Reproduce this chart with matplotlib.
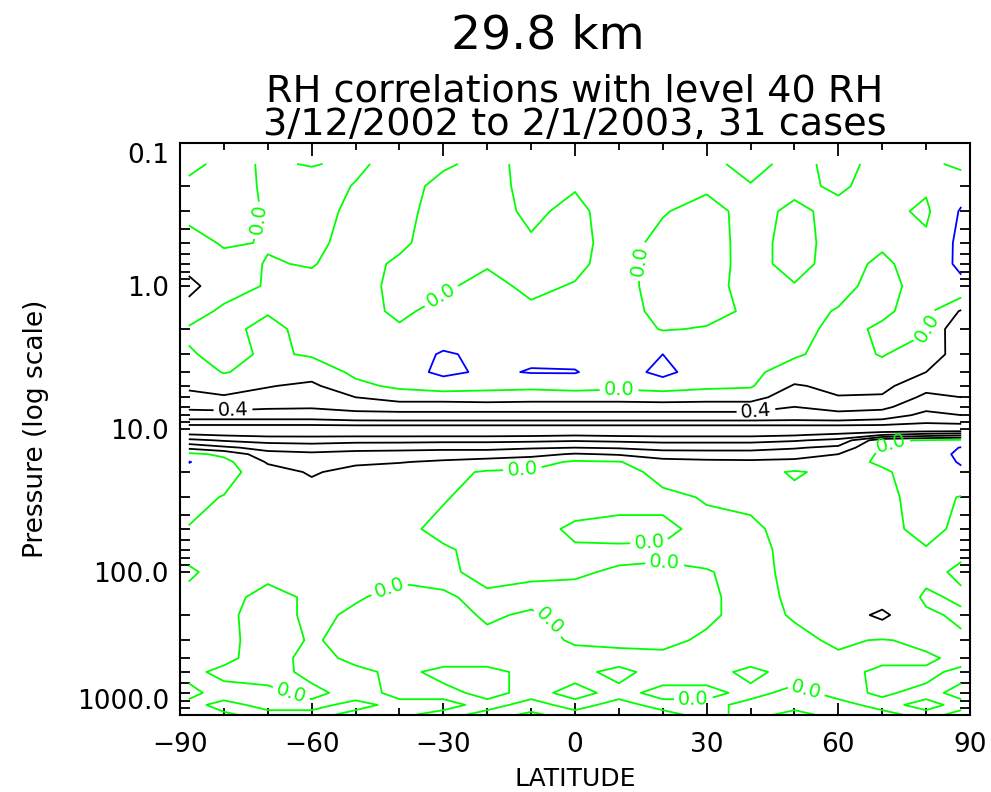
import numpy as np
import matplotlib
matplotlib.use('Agg')
import matplotlib.pyplot as plt
import matplotlib.ticker as ticker

# latitude columns and pressure rows of the correlation field
lats = [-88, -80, -70, -60, -50, -40, -30, -20, -10, 0, 10, 20, 30, 40, 50, 60, 70, 80, 88]
pressures = [0.14, 0.2, 0.3, 0.5, 0.7, 1.0, 1.5, 2.0, 3.0, 4.0,
             5.0, 6.0, 7.0, 8.0, 9.0, 10.0, 11.0, 12.0, 13.5, 15.0, 17.0, 20.0,
             30.0, 50.0, 70.0, 100.0, 150.0, 200.0, 300.0, 400.0, 500.0, 700.0, 850.0, 1000.0]

# correlation with level 40 RH, one row per pressure level (lat -88 ... 88)
corr = np.array([
    [0.05, -0.05, 0.02, -0.01, 0.03, -0.06, -0.02, 0.04, -0.04, -0.04, -0.06, -0.05, -0.04, 0.05, -0.05, 0.05, -0.05, -0.04, 0.04],   # 0.14
    [-0.05, -0.06, 0.02, 0.08, -0.01, -0.07, 0.05, 0.06, -0.05, -0.01, -0.07, -0.05, -0.02, -0.01, -0.03, 0.02, -0.05, -0.02, -0.12],  # 0.2
    [-0.05, -0.05, 0.01, 0.08, -0.05, -0.06, 0.08, 0.06, -0.03, 0.04, -0.08, -0.01, 0.05, -0.05, 0.03, -0.04, -0.05, 0.03, -0.22],    # 0.3
    [0.08, -0.02, 0.01, 0.04, -0.06, -0.03, 0.08, 0.04, 0.02, 0.05, -0.07, 0.05, 0.07, -0.06, 0.06, -0.06, -0.02, -0.04, -0.25],      # 0.5
    [0.15, 0.07, -0.01, 0.01, -0.07, 0.03, 0.06, 0.01, 0.05, 0.03, -0.06, 0.07, 0.06, -0.05, 0.05, -0.06, 0.03, -0.08, -0.24],        # 0.7
    [0.25, 0.10, -0.02, -0.05, -0.07, 0.05, 0.02, -0.04, 0.03, -0.01, -0.06, 0.07, 0.05, -0.05, -0.01, -0.04, 0.05, -0.06, -0.15],    # 1
    [0.12, -0.05, -0.01, -0.06, -0.06, 0.03, -0.05, -0.08, -0.03, -0.05, -0.07, 0.05, 0.04, -0.02, -0.05, 0.01, 0.02, -0.05, 0.22],   # 1.5
    [-0.03, -0.04, 0.04, -0.05, -0.05, -0.02, -0.10, -0.10, -0.08, -0.08, -0.08, 0.01, -0.01, -0.04, -0.05, 0.04, -0.02, -0.01, 0.38], # 2
    [0.02, -0.06, 0.03, -0.02, -0.06, -0.10, -0.22, -0.16, -0.17, -0.15, -0.12, -0.20, -0.07, -0.05, -0.02, 0.06, -0.01, 0.08, 0.30],  # 3
    [0.10, -0.01, 0.06, 0.12, -0.04, -0.12, -0.24, -0.17, -0.21, -0.21, -0.10, -0.26, -0.08, -0.04, 0.08, 0.10, 0.06, 0.20, 0.25],    # 4
    [0.17, 0.12, 0.19, 0.24, 0.05, -0.04, -0.10, -0.06, -0.05, -0.08, -0.05, -0.08, -0.04, -0.02, 0.22, 0.15, 0.15, 0.33, 0.30],      # 5
    [0.25, 0.22, 0.27, 0.30, 0.20, 0.12, 0.12, 0.10, 0.12, 0.12, 0.12, 0.10, 0.12, 0.12, 0.32, 0.21, 0.22, 0.45, 0.40],              # 6
    [0.35, 0.33, 0.37, 0.38, 0.32, 0.30, 0.30, 0.30, 0.30, 0.30, 0.30, 0.30, 0.30, 0.30, 0.40, 0.32, 0.35, 0.55, 0.50],              # 7
    [0.50, 0.50, 0.50, 0.50, 0.48, 0.47, 0.47, 0.47, 0.47, 0.47, 0.47, 0.47, 0.47, 0.47, 0.50, 0.47, 0.50, 0.65, 0.60],              # 8
    [0.68, 0.68, 0.68, 0.68, 0.65, 0.65, 0.65, 0.65, 0.65, 0.65, 0.65, 0.65, 0.65, 0.65, 0.65, 0.65, 0.68, 0.78, 0.75],              # 9
    [1.00, 1.00, 1.00, 1.00, 1.00, 1.00, 1.00, 1.00, 1.00, 1.00, 1.00, 1.00, 1.00, 1.00, 1.00, 1.00, 1.00, 1.00, 1.00],              # 10
    [0.78, 0.82, 0.85, 0.85, 0.85, 0.85, 0.85, 0.85, 0.84, 0.82, 0.84, 0.85, 0.85, 0.85, 0.82, 0.75, 0.60, 0.50, 0.45],              # 11
    [0.55, 0.62, 0.67, 0.68, 0.66, 0.66, 0.65, 0.65, 0.64, 0.62, 0.64, 0.66, 0.66, 0.66, 0.62, 0.55, 0.05, -0.02, -0.05],            # 12
    [0.25, 0.36, 0.47, 0.50, 0.47, 0.46, 0.45, 0.45, 0.42, 0.40, 0.42, 0.46, 0.46, 0.46, 0.42, 0.35, -0.03, -0.08, -0.21],           # 13.5
    [-0.05, 0.04, 0.33, 0.36, 0.33, 0.32, 0.30, 0.30, 0.26, 0.18, 0.22, 0.31, 0.32, 0.32, 0.28, 0.20, -0.04, -0.10, -0.24],          # 15
    [-0.21, -0.06, 0.22, 0.26, 0.23, 0.21, 0.17, 0.12, 0.08, -0.03, -0.01, 0.12, 0.15, 0.16, 0.15, 0.05, -0.02, -0.08, -0.22],       # 17
    [-0.12, -0.08, 0.12, 0.22, 0.14, 0.10, 0.05, -0.02, -0.03, -0.06, -0.05, 0.04, 0.06, 0.07, -0.02, 0.05, 0.02, -0.07, -0.16],     # 20
    [-0.06, 0.01, 0.07, 0.10, 0.08, 0.05, 0.01, -0.05, -0.06, -0.07, -0.04, -0.03, 0.01, 0.03, 0.05, 0.06, 0.04, -0.06, 0.01],       # 30
    [0.01, 0.05, 0.08, 0.08, 0.07, 0.04, -0.04, -0.03, -0.06, 0.03, 0.04, 0.03, -0.04, -0.03, 0.06, 0.05, 0.04, -0.04, 0.03],        # 50
    [0.04, 0.06, 0.06, 0.07, 0.06, 0.04, 0.02, -0.05, -0.04, -0.02, -0.02, -0.02, -0.05, -0.05, 0.05, 0.05, 0.05, 0.01, 0.02],       # 70
    [-0.02, 0.05, 0.03, 0.05, 0.04, 0.02, 0.02, -0.03, -0.01, -0.01, 0.01, 0.02, 0.01, -0.05, 0.04, 0.06, 0.06, 0.03, -0.02],        # 100
    [0.04, 0.04, -0.04, 0.02, 0.01, -0.03, -0.01, 0.02, 0.02, 0.03, 0.03, 0.04, 0.02, -0.04, 0.02, 0.08, 0.12, -0.02, 0.02],         # 150
    [0.05, 0.03, -0.06, 0.03, -0.02, -0.06, -0.03, 0.01, -0.01, 0.02, 0.04, 0.04, 0.02, -0.04, 0.01, 0.10, 0.24, 0.02, -0.02],       # 200
    [0.05, 0.03, -0.05, 0.01, -0.03, -0.05, -0.02, -0.02, -0.03, 0.01, 0.02, 0.03, -0.02, -0.04, -0.03, 0.02, -0.01, 0.03, 0.02],    # 300
    [0.03, 0.02, -0.04, 0.03, -0.02, -0.04, -0.03, -0.03, -0.02, -0.03, -0.03, -0.03, -0.04, -0.03, -0.04, -0.02, -0.02, -0.02, 0.03], # 400
    [0.02, -0.02, -0.03, 0.02, 0.02, -0.02, 0.02, 0.02, -0.02, -0.02, 0.02, -0.03, -0.03, 0.02, -0.03, -0.03, 0.02, 0.02, -0.02],    # 500
    [-0.02, 0.03, 0.02, -0.02, 0.03, -0.02, -0.02, 0.02, -0.02, 0.02, -0.02, 0.02, 0.02, -0.02, 0.02, -0.02, 0.01, -0.02, 0.02],     # 700
    [0.02, -0.02, 0.02, 0.02, -0.02, 0.02, 0.02, -0.02, 0.02, -0.02, 0.02, -0.02, -0.02, 0.02, 0.02, 0.02, -0.02, 0.02, -0.02],      # 850
    [0.02, 0.01, -0.02, -0.02, 0.02, 0.01, -0.02, 0.02, -0.01, 0.02, 0.02, 0.02, -0.02, 0.02, -0.02, 0.02, 0.02, -0.02, 0.02],       # 1000
])

neg_levels = [-0.4, -0.2]
pos_levels = [0.2, 0.6, 0.8]

xticks = [-90, -60, -30, 0, 30, 60, 90]
yticks = [0.1, 1.0, 10.0, 100.0, 1000.0]
ytick_labels = ['0.1', '1.0', '10.0', '100.0', '1000.0']

fig = plt.figure(figsize=(9.91, 7.92), dpi=100)
ax = fig.add_axes([180/991, 1 - 715/792, 790/991, 572/792])

ax.set_yscale('log')
ax.set_ylim(1000, 0.1)
ax.set_xlim(-90, 90)

lw = 1.3
ax.contour(lats, pressures, corr, levels=neg_levels, colors='blue', linewidths=lw, linestyles='solid')
ax.contour(lats, pressures, corr, levels=pos_levels, colors='black', linewidths=lw, linestyles='solid')
cs_zero = ax.contour(lats, pressures, corr, levels=[0.0], colors='#00ff00', linewidths=lw, linestyles='solid')
cs_four = ax.contour(lats, pressures, corr, levels=[0.4], colors='black', linewidths=lw, linestyles='solid')

# where the labels sit (lat, hPa)
zero_spots = [(-69, 0.36), (-31, 1.1), (15, 0.67), (79, 1.9), (10, 5.6), (-12, 18),
              (72, 12.5), (-42, 135), (17, 63), (20, 105), (-8, 245), (-65, 760),
              (27, 850), (52, 760)]
four_spots = [(-78, 6.3), (41, 6.5)]
ax.clabel(cs_zero, fmt='%.1f', fontsize=14, inline=True, inline_spacing=4, manual=zero_spots)
ax.clabel(cs_four, fmt='%.1f', fontsize=14, inline=True, inline_spacing=4, manual=four_spots)

ax.set_xticks(xticks)
ax.set_xticklabels([str(t).replace('-', '\u2212') for t in xticks])
ax.xaxis.set_minor_locator(ticker.MultipleLocator(10))
ax.set_yticks(yticks)
ax.set_yticklabels(ytick_labels)
ax.yaxis.set_minor_locator(ticker.LogLocator(base=10, subs=np.arange(2, 10)))
ax.yaxis.set_minor_formatter(ticker.NullFormatter())

ax.tick_params(which='both', direction='in', top=True, right=True, width=1.3)
ax.tick_params(axis='x', which='major', length=9, labelsize=19, pad=12)
ax.tick_params(axis='x', which='minor', length=5)
ax.tick_params(axis='y', which='both', length=7, labelsize=19, pad=8)
for s in ax.spines.values():
    s.set_linewidth(1.5)

labs = ax.get_yticklabels()
labs[0].set_va('top')
labs[-1].set_va('bottom')

ax.set_xlabel('LATITUDE', fontsize=18, labelpad=7)
ax.set_ylabel('Pressure (log scale)', fontsize=19, labelpad=20)
ax.set_title('RH correlations with level 40 RH\n3/12/2002 to 2/1/2003, 31 cases',
             fontsize=27.5, linespacing=0.92, pad=5)
fig.text(548/991, 1 - 36/792, '29.8 km', fontsize=34, ha='center', va='center')

fig.savefig('out.png', dpi=100)
